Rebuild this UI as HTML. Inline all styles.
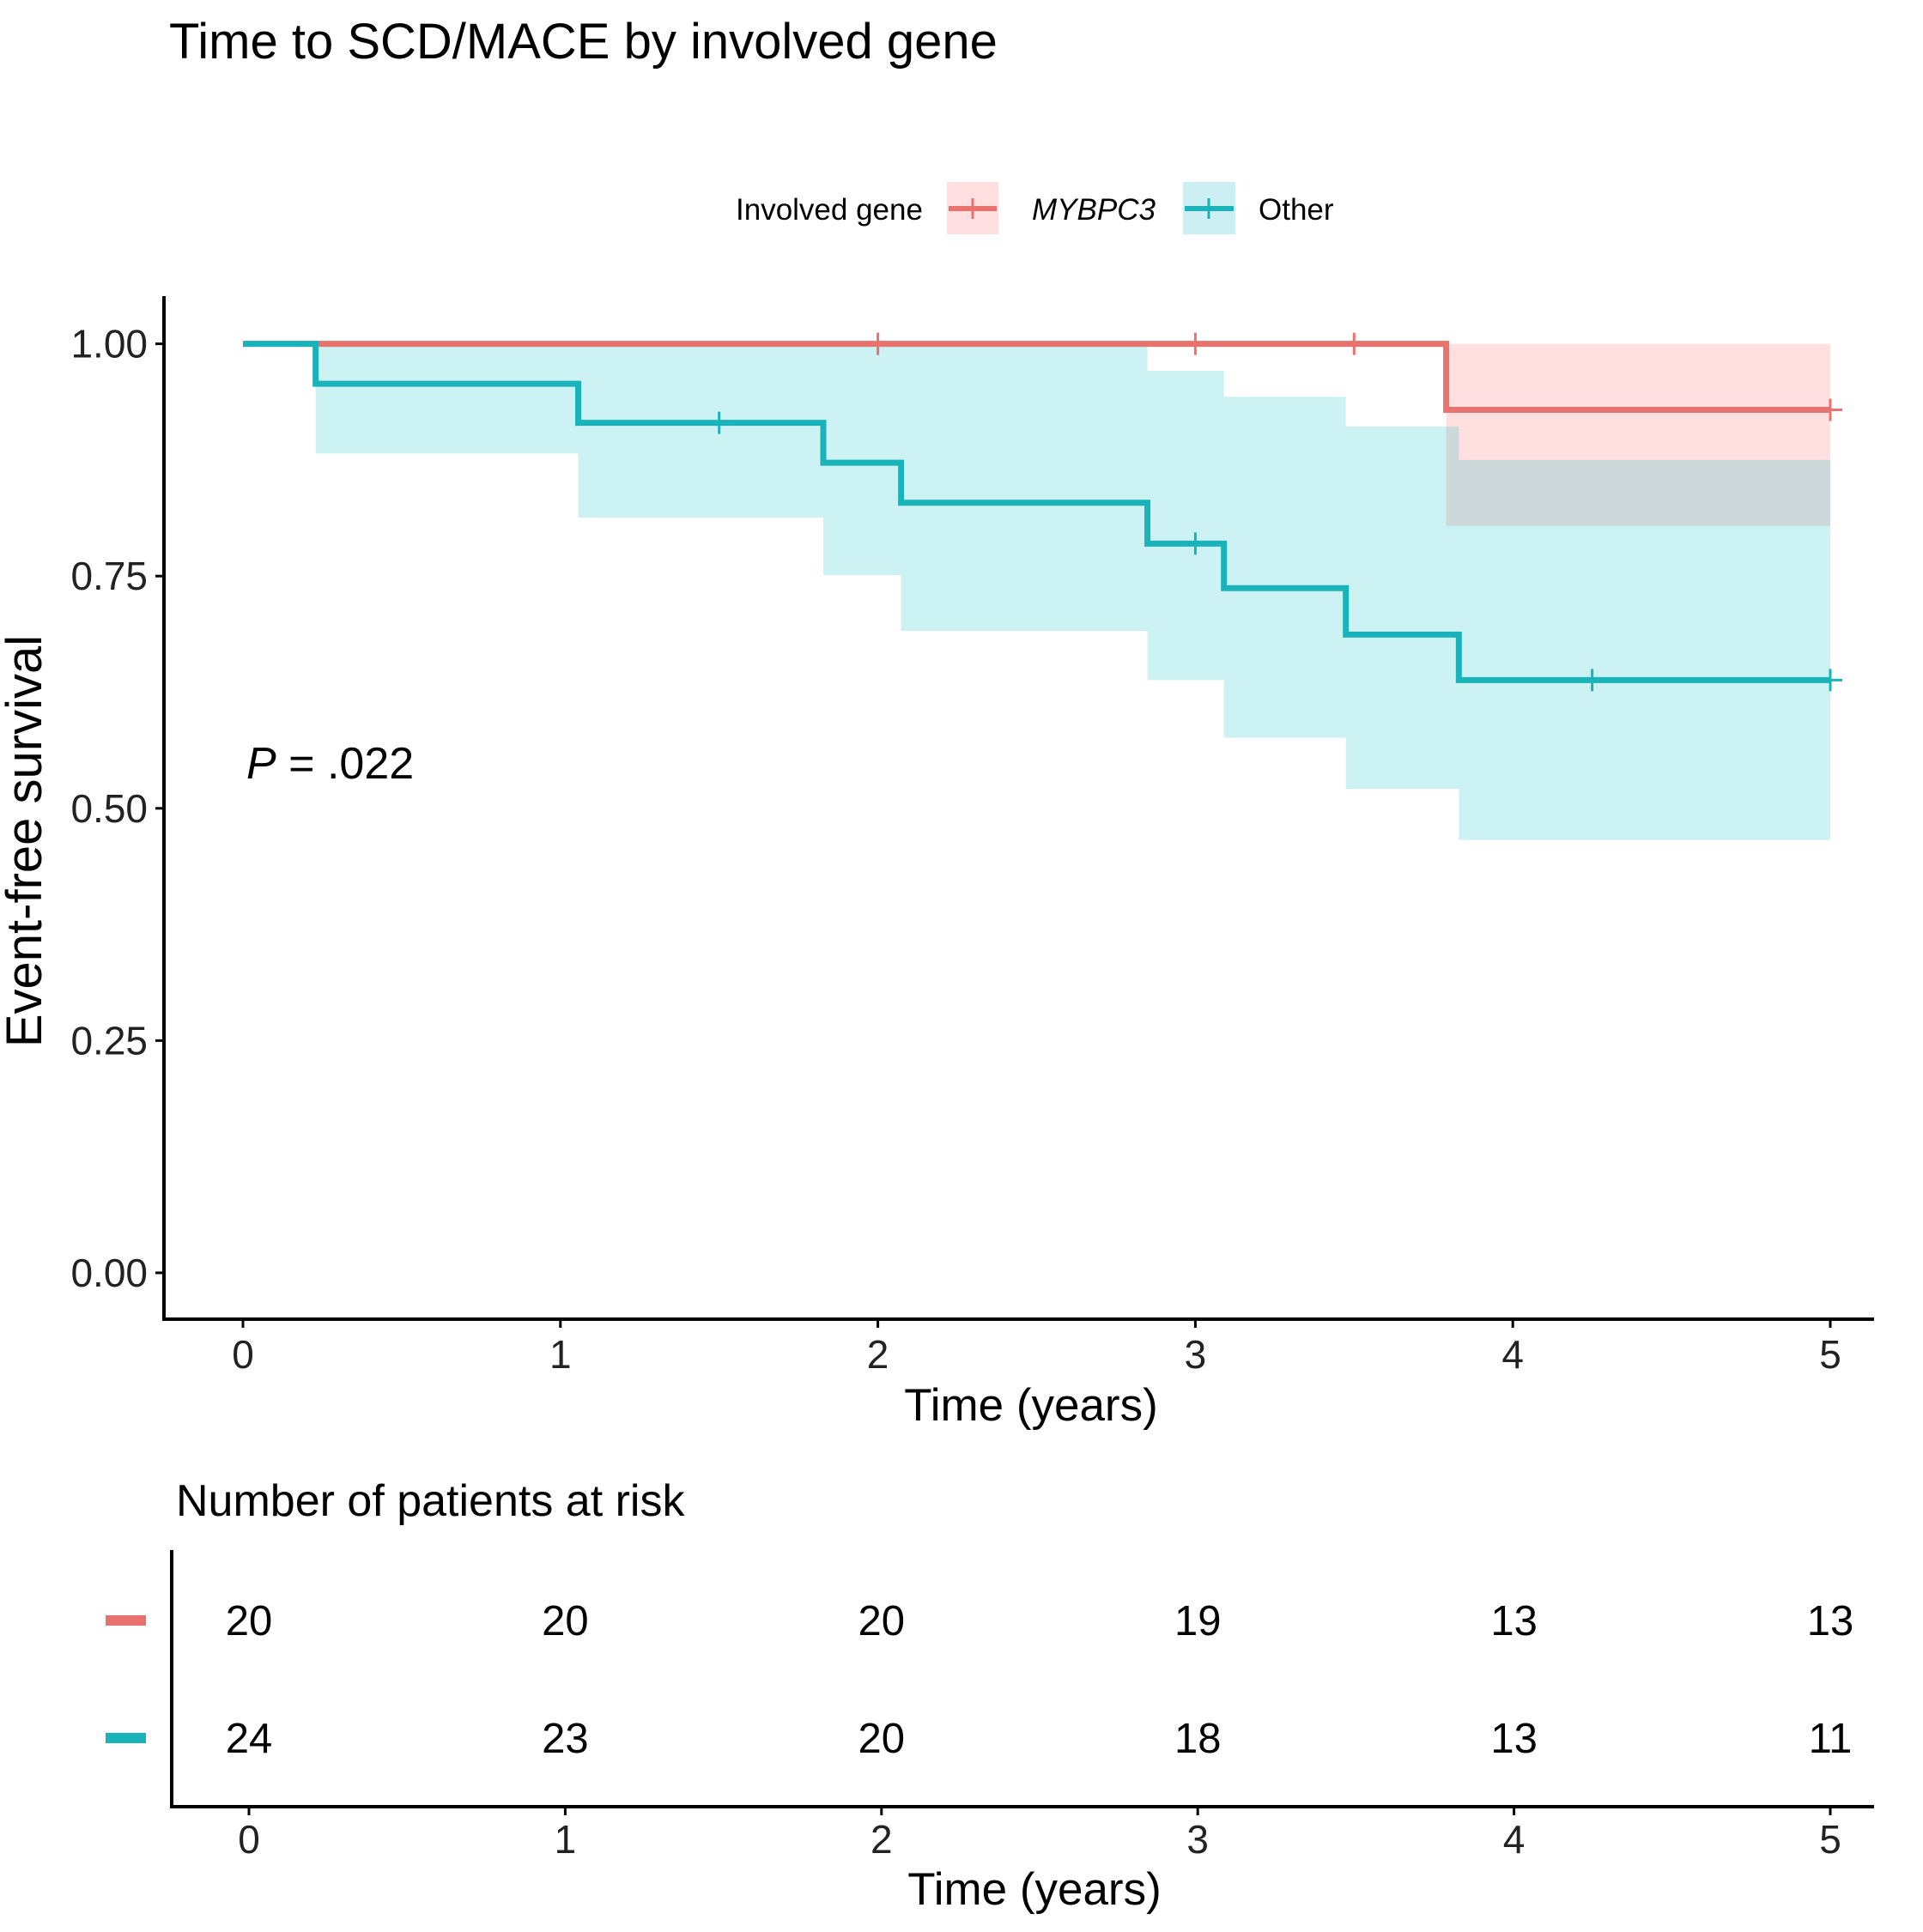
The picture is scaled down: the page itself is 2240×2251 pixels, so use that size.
<!DOCTYPE html>
<html><head><meta charset="utf-8"><style>
html,body{margin:0;padding:0;background:#fff;}
svg{display:block;font-family:"Liberation Sans",Arial,sans-serif;}
</style></head><body>
<svg id="c" width="2240" height="2251" viewBox="0 0 2240 2251"></svg>
<script>
// data
const years=[0,1,2,3,4,5];
const yTicks=[0,0.25,0.5,0.75,1];
const yTickLabels=["0.00","0.25","0.50","0.75","1.00"];
const otherTimes=[0,0.229,1.056,1.828,2.073,2.849,3.09,3.474,3.83,5];
const otherSurv=[1,0.957,0.915,0.872,0.829,0.785,0.737,0.687,0.638,0.638];
const otherLower=[1,0.882,0.813,0.751,0.691,0.638,0.576,0.521,0.466,0.466];
const otherUpper=[1,1,1,1,1,0.971,0.943,0.911,0.875,0.875];
const otherCensor=[1.5,3.0,4.25,5.0];
const mybTimes=[0,3.79,5];
const mybSurv=[1,0.929,0.929];
const mybLower=[1,0.804,0.804];
const mybUpper=[1,1,1];
const mybCensor=[2.0,3.0,3.5,5.0];
const riskMyb=[20,20,20,19,13,13];
const riskOther=[24,23,20,18,13,11];

const NS="http://www.w3.org/2000/svg";
const svg=document.getElementById('c');
function el(t,a,txt,parent){const e=document.createElementNS(NS,t);for(const k in a)e.setAttribute(k,a[k]);if(txt!==undefined)e.textContent=txt;(parent||svg).appendChild(e);return e;}
const X=t=>283+t*369.8;
const Y=v=>1483-v*1082.4;
const RX=t=>290+t*368.4;

let e;
e=el('text',{x:197,y:68,'font-size':58,fill:'#000'},'Time to SCD/MACE by involved gene');



// legend
const lg=el('g',{});


el('text',{x:857,y:256,'font-size':35,fill:'#000'},'Involved gene',lg);
el('rect',{x:1103,y:212,width:60,height:61,fill:'#FFDFE0'},undefined,lg);
el('line',{x1:1105,y1:243,x2:1161,y2:243,stroke:'#E8726E','stroke-width':6},undefined,lg);
el('line',{x1:1133,y1:231,x2:1133,y2:255,stroke:'#E8726E','stroke-width':3},undefined,lg);
e=el('text',{x:1202,y:256,'font-size':35,'font-style':'italic',fill:'#000'},'MYBPC3',lg);


el('rect',{x:1378,y:212,width:61,height:61,fill:'#CBEFF2'},undefined,lg);
el('line',{x1:1380,y1:243,x2:1437,y2:243,stroke:'#1BB3BA','stroke-width':6},undefined,lg);
el('line',{x1:1408,y1:231,x2:1408,y2:255,stroke:'#1BB3BA','stroke-width':3},undefined,lg);
e=el('text',{x:1466,y:256,'font-size':35,fill:'#000'},'Other',lg);



function bandPath(times,lo,hi){
  let top='',bot=[];
  for(let i=0;i<times.length-1;i++){
    top+=(i?'L':'M')+X(times[i])+','+Y(hi[i])+'L'+X(times[i+1])+','+Y(hi[i]);
    bot.push([X(times[i]),Y(lo[i])],[X(times[i+1]),Y(lo[i])]);
  }
  bot.reverse();
  return top+bot.map(p=>'L'+p[0]+','+p[1]).join('')+'Z';
}
function stepPath(times,s){
  let d='M'+X(times[0])+','+Y(s[0]);
  for(let i=1;i<times.length;i++){d+='L'+X(times[i])+','+Y(s[i-1]);if(i<times.length-1)d+='L'+X(times[i])+','+Y(s[i]);}
  return d;
}
function survAt(times,s,t){let v=s[0];for(let i=0;i<times.length;i++){if(times[i]<=t)v=s[i];}return v;}

e=el('path',{d:bandPath(mybTimes.slice(1),mybLower.slice(1),mybUpper.slice(1)),fill:'#FFDFE0'});


e=el('path',{d:bandPath(otherTimes,otherLower,otherUpper),fill:'rgb(0,191,196)','fill-opacity':0.2});



e=el('path',{d:stepPath(mybTimes,mybSurv),fill:'none',stroke:'#E8726E','stroke-width':7});


e=el('path',{d:stepPath(otherTimes,otherSurv),fill:'none',stroke:'#1BB3BA','stroke-width':7});


mybCensor.forEach(t=>{const y=Y(survAt(mybTimes,mybSurv,t));
  e=el('path',{d:`M${X(t)},${y-13}V${y+13}M${X(t)},${y}h14`,stroke:'#E8726E','stroke-width':3,fill:'none'});
  
  });
otherCensor.forEach(t=>{const y=Y(survAt(otherTimes,otherSurv,t));
  e=el('path',{d:`M${X(t)},${y-13}V${y+13}M${X(t)},${y}h14`,stroke:'#1BB3BA','stroke-width':3,fill:'none'});
  
  });

// axes
e=el('path',{d:'M191,345V1537H2183',stroke:'#000','stroke-width':4,fill:'none'});


yTicks.forEach((v,i)=>{el('line',{x1:181,x2:191,y1:Y(v),y2:Y(v),stroke:'#000','stroke-width':3});
  e=el('text',{x:172,y:Y(v)+16,'font-size':46,'text-anchor':'end',fill:'#222'},yTickLabels[i]);
  
  });
years.forEach(t=>{el('line',{x1:X(t),x2:X(t),y1:1537,y2:1547,stroke:'#000','stroke-width':3});
  e=el('text',{x:X(t),y:1594,'font-size':46,'text-anchor':'middle',fill:'#222'},String(t));
  
  });
e=el('text',{x:1201,y:1655,'font-size':53,'text-anchor':'middle',fill:'#000'},'Time (years)');


e=el('text',{x:0,y:0,'font-size':58,'text-anchor':'middle',fill:'#000',transform:'translate(48,980) rotate(-90)'},'Event-free survival');


e=el('text',{x:287,y:907,'font-size':52,fill:'#000'});


el('tspan',{'font-style':'italic'},'P',e);el('tspan',{},' = .022',e);

// risk table
e=el('text',{x:205,y:1766,'font-size':52,fill:'#000'},'Number of patients at risk');


e=el('path',{d:'M200,1806V2105H2183',stroke:'#000','stroke-width':4,fill:'none'});


e=el('rect',{x:123,y:1882,width:47,height:12,fill:'#E8726E'});


e=el('rect',{x:123,y:2019,width:47,height:12,fill:'#1BB3BA'});


years.forEach((t,i)=>{
  e=el('text',{x:RX(t),y:1905,'font-size':49,'text-anchor':'middle',fill:'#000'},String(riskMyb[i]));
  
  
  e=el('text',{x:RX(t),y:2042,'font-size':49,'text-anchor':'middle',fill:'#000'},String(riskOther[i]));
  
  
  el('line',{x1:RX(t),x2:RX(t),y1:2105,y2:2115,stroke:'#000','stroke-width':3});
  e=el('text',{x:RX(t),y:2159,'font-size':46,'text-anchor':'middle',fill:'#222'},String(t));
  
  
});
e=el('text',{x:1205,y:2219,'font-size':53,'text-anchor':'middle',fill:'#000'},'Time (years)');


</script>
</body></html>
